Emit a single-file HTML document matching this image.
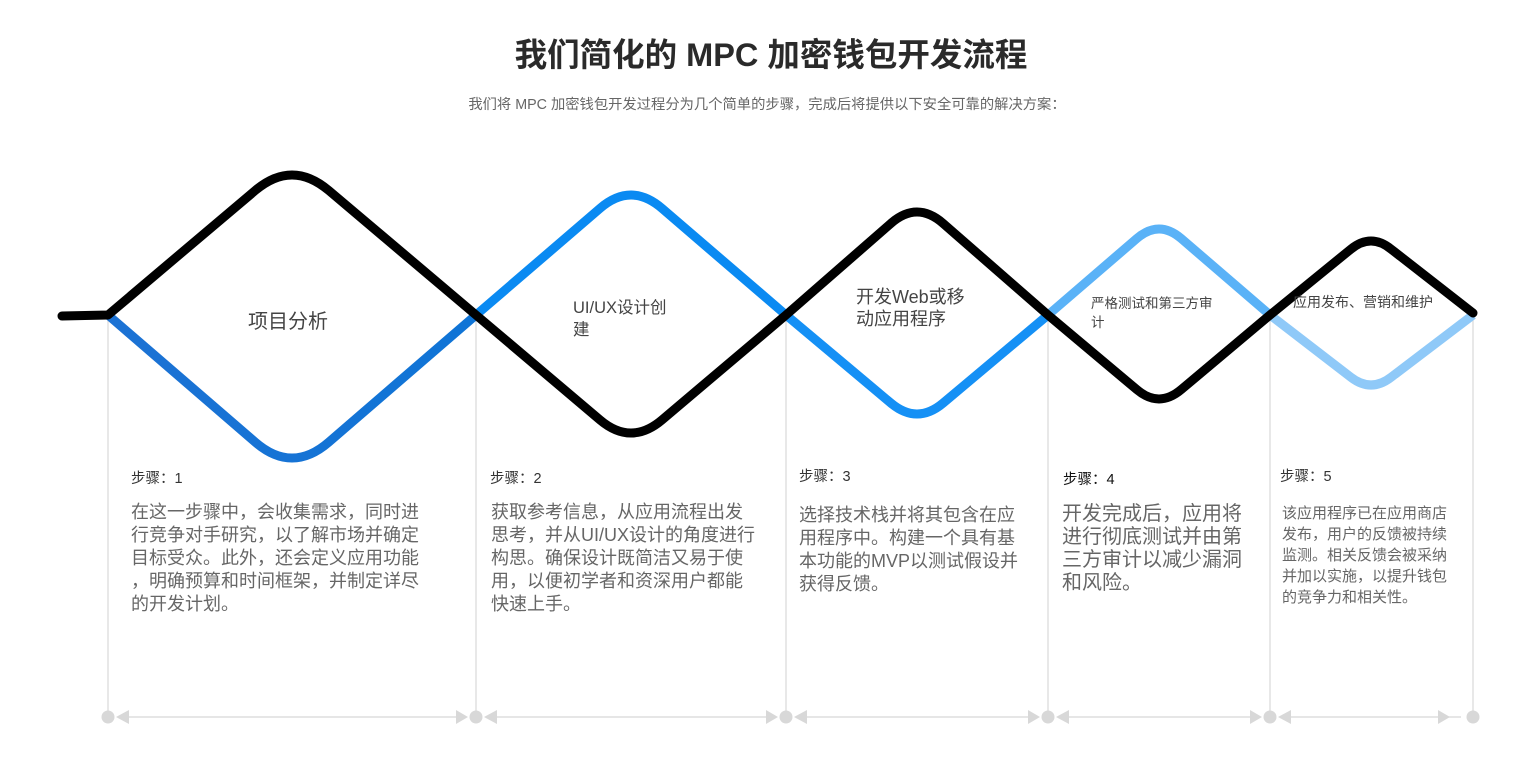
<!DOCTYPE html>
<html><head><meta charset="utf-8"><style>
html,body{margin:0;padding:0;background:#fff;width:1539px;height:779px;overflow:hidden}
svg{display:block}
text{font-family:"Liberation Sans","Noto Sans CJK SC",sans-serif}
</style></head><body>
<svg width="1539" height="779" viewBox="0 0 1539 779">
<defs>
<linearGradient id="g1" x1="0" x2="1" y1="0" y2="0"><stop offset="0" stop-color="#1c72d4"/><stop offset="1" stop-color="#0f74d6"/></linearGradient>
</defs>
<text x="771" y="66" text-anchor="middle" font-size="32.5" font-weight="bold" fill="#2a2a2a">我们简化的 MPC 加密钱包开发流程</text>
<text x="767" y="109" text-anchor="middle" font-size="14.3" fill="#666">我们将 MPC 加密钱包开发过程分为几个简单的步骤，完成后将提供以下安全可靠的解决方案：</text>

<g stroke="#d8d8d8" stroke-width="1.2">
<line x1="108" y1="320" x2="108" y2="717"/>
<line x1="476" y1="320" x2="476" y2="717"/>
<line x1="786" y1="320" x2="786" y2="717"/>
<line x1="1048" y1="320" x2="1048" y2="717"/>
<line x1="1270" y1="320" x2="1270" y2="717"/>
<line x1="1473" y1="320" x2="1473" y2="717"/>
<line x1="120" y1="717" x2="464" y2="717"/>
<line x1="488" y1="717" x2="774" y2="717"/>
<line x1="798" y1="717" x2="1036" y2="717"/>
<line x1="1060" y1="717" x2="1258" y2="717"/>
<line x1="1282" y1="717" x2="1461" y2="717"/>
</g>
<g fill="#d8d8d8">
<circle cx="108" cy="717" r="6.5"/><circle cx="476" cy="717" r="6.5"/><circle cx="786" cy="717" r="6.5"/><circle cx="1048" cy="717" r="6.5"/><circle cx="1270" cy="717" r="6.5"/><circle cx="1473" cy="717" r="6.5"/>
<polygon points="116,717 129,710 129,724"/><polygon points="468,717 456,710 456,724"/>
<polygon points="484,717 497,710 497,724"/><polygon points="778,717 766,710 766,724"/>
<polygon points="794,717 807,710 807,724"/><polygon points="1040,717 1028,710 1028,724"/>
<polygon points="1056,717 1069,710 1069,724"/><polygon points="1262,717 1250,710 1250,724"/>
<polygon points="1278,717 1291,710 1291,724"/><polygon points="1450,717 1438,710 1438,724"/>
</g>

<g fill="none" stroke-width="9" stroke-linejoin="round">
<path d="M108 315 L255.2 442.1 Q292 473.9 328.8 442.1 L476 315" stroke="url(#g1)"/>
<path d="M476 315 L600 208.4 Q631 181.7 662 208.4 L786 315" stroke="#0a8af2"/>
<path d="M786 315 L890.8 403 Q917 425 943.2 403 L1048 315" stroke="#1590f5"/>
<path d="M1048 315 L1136.8 238.5 Q1159 219.4 1181.2 238.5 L1270 315" stroke="#5ab2f7"/>
<path d="M1270 315 L1350.8 377.2 Q1371 392.8 1391.2 377.2 L1473 315" stroke="#8fc9f8"/>
<path d="M62 316 L108 315 L255.2 190.5 Q292 159.4 328.8 190.5 L476 315 L600 419.9 Q631 446.1 662 419.9 L786 315 L890.8 223.5 Q917 200.6 943.2 223.5 L1048 315 L1136.8 389.6 Q1159 408.3 1181.2 389.6 L1270 315 L1350.8 249.2 Q1371 232.8 1391.2 249.2 L1473 313" stroke="#000" stroke-linecap="round"/>
</g>

<g fill="#444">
<text x="248" y="328" font-size="20">项目分析</text>
<text x="573" y="313" font-size="16.5">UI/UX设计创</text>
<text x="573" y="335" font-size="16.5">建</text>
<text x="856" y="303" font-size="18">开发Web或移</text>
<text x="856" y="325" font-size="18">动应用程序</text>
<text x="1091" y="308" font-size="13.5">严格测试和第三方审</text>
<text x="1091" y="327" font-size="13.5">计</text>
<text x="1293" y="307" font-size="14">应用发布、营销和维护</text>
</g>

<g font-size="14.5" fill="#333">
<text x="131" y="483">步骤：1</text>
<text x="490" y="483">步骤：2</text>
<text x="799" y="481">步骤：3</text>
<text x="1063" y="484" fill="#111">步骤：4</text>
<text x="1280" y="481">步骤：5</text>
</g>
<g font-size="18" fill="#666">
<text x="131" y="518">在这一步骤中，会收集需求，同时进</text>
<text x="131" y="541">行竞争对手研究，以了解市场并确定</text>
<text x="131" y="564">目标受众。此外，还会定义应用功能</text>
<text x="131" y="587">，明确预算和时间框架，并制定详尽</text>
<text x="131" y="610">的开发计划。</text>
<text x="491" y="518">获取参考信息，从应用流程出发</text>
<text x="491" y="541">思考，并从UI/UX设计的角度进行</text>
<text x="491" y="564">构思。确保设计既简洁又易于使</text>
<text x="491" y="587">用，以便初学者和资深用户都能</text>
<text x="491" y="610">快速上手。</text>
<text x="799" y="521">选择技术栈并将其包含在应</text>
<text x="799" y="544">用程序中。构建一个具有基</text>
<text x="799" y="567">本功能的MVP以测试假设并</text>
<text x="799" y="590">获得反馈。</text>
</g>
<g font-size="20" fill="#666">
<text x="1062" y="520">开发完成后，应用将</text>
<text x="1062" y="543">进行彻底测试并由第</text>
<text x="1062" y="566">三方审计以减少漏洞</text>
<text x="1062" y="589">和风险。</text>
</g>
<g font-size="15" fill="#666">
<text x="1282" y="518">该应用程序已在应用商店</text>
<text x="1282" y="539">发布，用户的反馈被持续</text>
<text x="1282" y="560">监测。相关反馈会被采纳</text>
<text x="1282" y="581">并加以实施，以提升钱包</text>
<text x="1282" y="602">的竞争力和相关性。</text>
</g>
</svg>
</body></html>
